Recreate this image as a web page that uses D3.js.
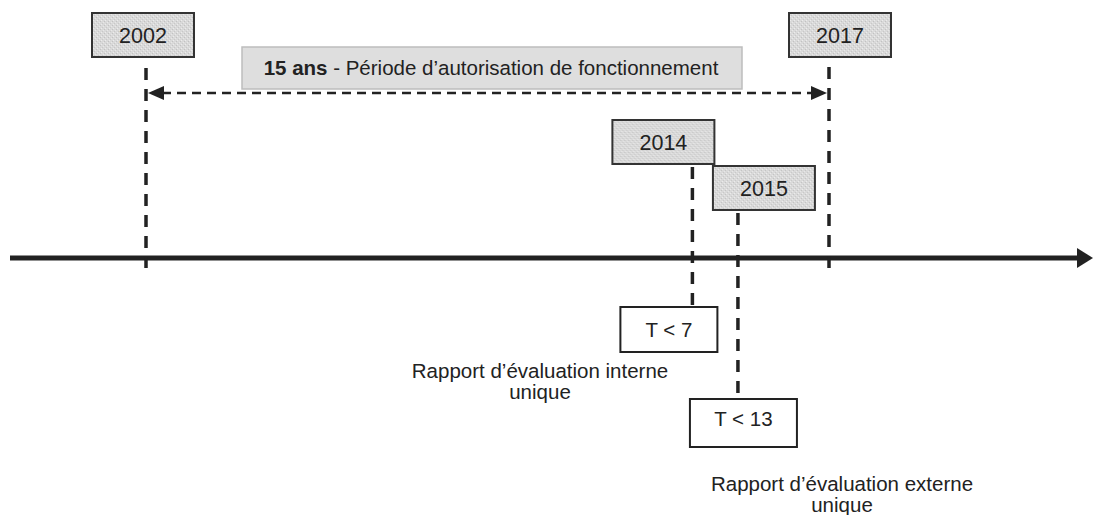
<!DOCTYPE html>
<html>
<head>
<meta charset="utf-8">
<script src="https://cdn.jsdelivr.net/npm/d3@7"></script>
<style>
  body { margin: 0; background: #fff; }
  text { font-family: "Liberation Sans", Arial, sans-serif; fill: #222; }
</style>
</head>
<body>
<svg id="timeline" width="1094" height="515"></svg>
<script>
// data
var years = [2002, 2014, 2015, 2017];
var yearLabels = ["2002", "2014", "2015", "2017"];
var periodYears = [2002, 2017];
var periodBold = "15 ans";
var periodText = " - Période d\u2019autorisation de fonctionnement";
var deadlineYears = [2014, 2015];
var deadlineLabels = ["T < 7", "T < 13"];
var reportLines = [
  ["Rapport d\u2019évaluation interne", "unique"],
  ["Rapport d\u2019évaluation externe", "unique"]
];

// layout (per year label box: horizontal shift from the tick, top of box)
var boxLayout = [
  { dx: -54, top: 13 },
  { dx: -80, top: 120 },
  { dx: -25, top: 166 },
  { dx: -40, top: 13 }
];
var lineLayout = [
  { y1: 68, y2: 268 },
  { y1: 167, y2: 307 },
  { y1: 213, y2: 393 },
  { y1: 67, y2: 270 }
];
var deadlineLayout = [
  { dx: -72, top: 307, w: 97, h: 45, ty: 337 },
  { dx: -48, top: 399, w: 107, h: 48, ty: 426 }
];
var reportLayout = [
  { cx: 540, y: 378 },
  { cx: 842, y: 491 }
];

var svg = d3.select("#timeline");
var axisY = 258;
var x = d3.scaleLinear().domain([2002, 2017]).range([146, 829]);

// stipple texture for the year boxes
var defs = svg.append("defs");
var pat = defs.append("pattern")
  .attr("id", "stipple")
  .attr("width", 4).attr("height", 4)
  .attr("patternUnits", "userSpaceOnUse");
pat.append("rect").attr("width", 4).attr("height", 4).attr("fill", "#d9d9d9");
pat.append("rect").attr("x", 0).attr("y", 0).attr("width", 1).attr("height", 1).attr("fill", "#c2c2c2");
pat.append("rect").attr("x", 2).attr("y", 2).attr("width", 1).attr("height", 1).attr("fill", "#c8c8c8");
pat.append("rect").attr("x", 1).attr("y", 3).attr("width", 1).attr("height", 1).attr("fill", "#ececec");
pat.append("rect").attr("x", 3).attr("y", 1).attr("width", 1).attr("height", 1).attr("fill", "#e8e8e8");

// main time axis
svg.append("line")
  .attr("x1", 10).attr("x2", 1078)
  .attr("y1", axisY).attr("y2", axisY)
  .attr("stroke", "#222").attr("stroke-width", 5);
svg.append("path")
  .attr("d", "M1077," + (axisY - 10) + "L1093," + axisY + "L1077," + (axisY + 10) + "Z")
  .attr("fill", "#222");

// dashed year ticks
svg.selectAll(".tick-line")
  .data(years)
  .enter()
  .append("line")
  .attr("class", "tick-line")
  .attr("x1", function (d) { return x(d); })
  .attr("x2", function (d) { return x(d); })
  .attr("y1", function (d, i) { return lineLayout[i].y1; })
  .attr("y2", function (d, i) { return lineLayout[i].y2; })
  .attr("stroke", "#222")
  .attr("stroke-width", 3.5)
  .attr("stroke-dasharray", "12,9");

// year boxes
var yb = svg.selectAll(".year-box")
  .data(years)
  .enter()
  .append("g")
  .attr("class", "year-box")
  .attr("transform", function (d, i) {
    return "translate(" + (x(d) + boxLayout[i].dx) + "," + boxLayout[i].top + ")";
  });
yb.append("rect")
  .attr("width", 102).attr("height", 44)
  .attr("fill", "url(#stipple)")
  .attr("stroke", "#333").attr("stroke-width", 2);
yb.append("text")
  .attr("x", 51).attr("y", 30)
  .attr("text-anchor", "middle")
  .attr("font-size", 21.5)
  .text(function (d, i) { return yearLabels[i]; });

// period box
var pg = svg.append("g");
pg.append("rect")
  .attr("x", 242).attr("y", 47)
  .attr("width", 500).attr("height", 42)
  .attr("fill", "#dedede")
  .attr("stroke", "#bdbdbd").attr("stroke-width", 1.5);
var pt = pg.append("text")
  .attr("x", 491).attr("y", 75)
  .attr("text-anchor", "middle")
  .attr("font-size", 20.5);
pt.append("tspan").attr("font-weight", "bold").text(periodBold);
pt.append("tspan").text(periodText);

// dashed double arrow for the period
var ay = 93;
var px0 = x(periodYears[0]) + 2, px1 = x(periodYears[1]) - 2;
svg.append("line")
  .attr("x1", px0 + 14).attr("x2", px1 - 14)
  .attr("y1", ay).attr("y2", ay)
  .attr("stroke", "#222").attr("stroke-width", 2.5)
  .attr("stroke-dasharray", "9,6");
svg.append("path")
  .attr("d", "M" + px0 + "," + ay + "L" + (px0 + 16) + "," + (ay - 7) + "L" + (px0 + 16) + "," + (ay + 7) + "Z")
  .attr("fill", "#222");
svg.append("path")
  .attr("d", "M" + px1 + "," + ay + "L" + (px1 - 16) + "," + (ay - 7) + "L" + (px1 - 16) + "," + (ay + 7) + "Z")
  .attr("fill", "#222");

// deadline boxes
var dg = svg.selectAll(".deadline")
  .data(deadlineYears)
  .enter()
  .append("g")
  .attr("class", "deadline")
  .attr("transform", function (d, i) {
    return "translate(" + (x(d) + deadlineLayout[i].dx) + "," + deadlineLayout[i].top + ")";
  });
dg.append("rect")
  .attr("width", function (d, i) { return deadlineLayout[i].w; })
  .attr("height", function (d, i) { return deadlineLayout[i].h; })
  .attr("fill", "#fff")
  .attr("stroke", "#222").attr("stroke-width", 2);
dg.append("text")
  .attr("x", function (d, i) { return deadlineLayout[i].w / 2; })
  .attr("y", function (d, i) { return deadlineLayout[i].ty - deadlineLayout[i].top; })
  .attr("text-anchor", "middle")
  .attr("font-size", 20.5)
  .text(function (d, i) { return deadlineLabels[i]; });

// report captions
svg.selectAll(".report")
  .data(reportLines)
  .enter()
  .append("text")
  .attr("class", "report")
  .attr("text-anchor", "middle")
  .attr("font-size", 20.5)
  .attr("transform", function (d, i) {
    return "translate(" + reportLayout[i].cx + "," + reportLayout[i].y + ")";
  })
  .selectAll("tspan")
  .data(function (d) { return d; })
  .enter()
  .append("tspan")
  .attr("x", 0)
  .attr("dy", function (d, i) { return i === 0 ? 0 : 21; })
  .text(function (d) { return d; });
</script>
</body>
</html>
